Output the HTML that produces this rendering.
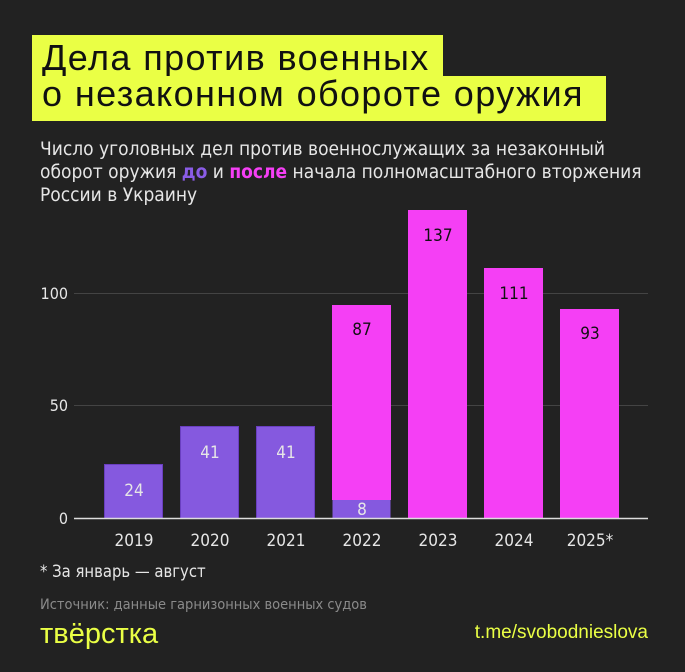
<!DOCTYPE html>
<html><head><meta charset="utf-8"><style>
body{margin:0;width:685px;height:672px;background:#222222;overflow:hidden;font-family:"Liberation Sans","DejaVu Sans",sans-serif;}
.abs{position:absolute;}
.t{background:#eaff45;color:#111;font-size:36px;line-height:36px;padding:0 12px 0 10px;letter-spacing:1.4px;}
.sub{color:#e6e6e6;font-family:"DejaVu Sans Condensed","DejaVu Sans",sans-serif;font-size:19px;line-height:23px;}
</style></head><body>
<div class="abs t" style="left:32px;top:35px;height:36px;width:389px;padding-top:5px;">Дела против военных</div>
<div class="abs t" style="left:32px;top:76px;height:45px;width:552px;">о незаконном обороте оружия</div>
<div class="abs sub" style="left:40px;top:138px;width:645px;">Число уголовных дел против военнослужащих за незаконный<br>оборот оружия <b style="color:#8a5ce6">до</b> и <b style="color:#f53ff5">после</b> начала полномасштабного вторжения<br>России в Украину</div>
<svg class="abs" style="left:0;top:0" width="685" height="672">
<g font-family="DejaVu Sans Condensed, DejaVu Sans, sans-serif" font-size="16">
<line x1="74" y1="293.5" x2="648" y2="293.5" stroke="#444" stroke-width="1"/>
<line x1="74" y1="405.5" x2="648" y2="405.5" stroke="#444" stroke-width="1"/>
<g fill="#e6e6e6" text-anchor="end"><text x="68" y="299">100</text><text x="68" y="411">50</text><text x="68" y="524">0</text></g>
<g fill="#8559df" stroke="#6a3fc0" stroke-width="1">
<rect x="104.5" y="464.5" width="58" height="54"/>
<rect x="180.5" y="426.5" width="58" height="92"/>
<rect x="256.5" y="426.5" width="58" height="92"/>
<rect x="332.5" y="500" width="58" height="18.5" stroke="none"/>
</g>
<g fill="#f53ff5">
<rect x="332" y="305" width="59" height="195"/>
<rect x="408" y="210" width="59" height="308"/>
<rect x="484" y="268" width="59" height="250"/>
<rect x="560" y="309" width="59" height="209"/>
</g>
<line x1="74" y1="518.5" x2="648" y2="518.5" stroke="#ddd" stroke-width="1.5"/>
<g fill="#e6e6e6" text-anchor="middle" font-size="17">
<text x="134" y="496">24</text><text x="210" y="458">41</text><text x="286" y="458">41</text><text x="362" y="515">8</text>
</g>
<g fill="#111" text-anchor="middle" font-size="17">
<text x="362" y="335">87</text><text x="438" y="241">137</text><text x="514" y="299">111</text><text x="590" y="339">93</text>
</g>
<g fill="#e6e6e6" text-anchor="middle" font-size="17">
<text x="134" y="546">2019</text><text x="210" y="546">2020</text><text x="286" y="546">2021</text><text x="362" y="546">2022</text><text x="438" y="546">2023</text><text x="514" y="546">2024</text><text x="590" y="546">2025*</text>
</g>
<text x="40" y="577" fill="#e6e6e6" font-size="16.5">* За январь — август</text>
<text x="40" y="609" fill="#8a8a8a" font-size="14.5">Источник: данные гарнизонных военных судов</text>
</g>
<text x="40" y="643" fill="#eaff45" font-family="Liberation Sans, sans-serif" font-size="29">твёрстка</text>
<text x="648" y="638" fill="#eaff45" font-family="Liberation Sans, sans-serif" font-size="19" text-anchor="end">t.me/svobodnieslova</text>
</svg>
</body></html>
